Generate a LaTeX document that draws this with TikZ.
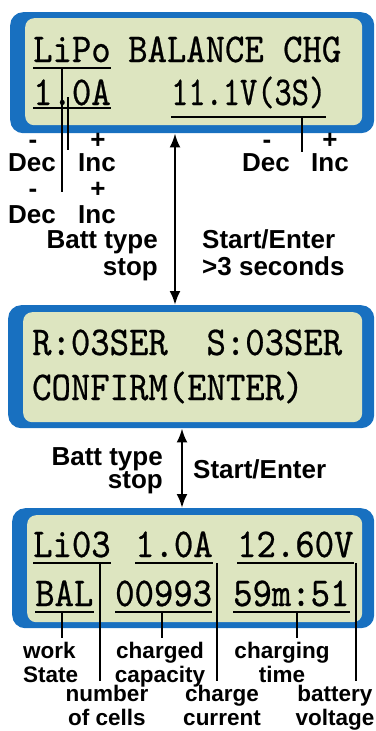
\documentclass[tikz,border=0pt]{standalone}
\usepackage{fontspec}
\setmainfont{Liberation Sans}
\newfontfamily\lcdfont[FakeStretch=0.9,FakeBold=0.6]{lmmono10-regular.otf}
\newfontfamily\lcdnarrow[FakeStretch=0.8,FakeBold=0.6]{lmmono10-regular.otf}
\usetikzlibrary{arrows.meta,positioning,calc}
\definecolor{lcdblue}{RGB}{24,112,192}
\definecolor{lcdface}{RGB}{221,229,192}
\tikzset{
  frame/.style={fill=lcdblue,rounded corners=13pt,inner sep=0pt,anchor=north west},
  screen/.style={fill=lcdface,rounded corners=9pt,inner sep=0pt,anchor=north west},
  lcd/.style={font=\fontsize{41}{41}\selectfont\lcdfont,inner sep=0pt,anchor=base west},
  lcdn/.style={lcd,font=\fontsize{41}{41}\selectfont\lcdnarrow},
  lbl/.style={font=\fontsize{26}{27}\selectfont\bfseries,inner sep=0pt},
  note/.style={font=\fontsize{22.5}{23.5}\selectfont\bfseries,inner sep=0pt,align=center,anchor=base},
  uline/.style={black,line width=1.8pt},
  lead/.style={black,line width=1.4pt},
  dbl/.style={{Latex[length=14pt,width=11pt]}-{Latex[length=14pt,width=11pt]},line width=2.4pt},
}
\newcommand{\ulfield}[2]{% node, drop below baseline
  \draw[uline] ([yshift=-#2pt]#1.base west) -- ([yshift=-#2pt]#1.base east);
}

\begin{document}
\begin{tikzpicture}[x=1pt,y=-1pt]
  \useasboundingbox (0,0) rectangle (375,731);
  % screen 1: type and setting
  \node[frame,minimum width=364,minimum height=121] (f1) at (10,12) {};
  \node[screen,minimum width=337,minimum height=107] (s1) at (25,18) {};
  \node[lcd] (lipo) at (33,62) {LiPo};
  \node[lcd] (mode) at (128,62) {BALANCE CHG};
  \node[lcd] (cur1) at (33,105) {1.0A};
  \node[lcdn] (volt1) at (171,105) {11.1V(3S)};
  \ulfield{lipo}{6}
  \ulfield{cur1}{3}
  \ulfield{volt1}{12}

  % screen 2: confirm cells
  \node[frame,minimum width=366,minimum height=123] (f2) at (8,305) {};
  \node[screen,minimum width=339,minimum height=110] (s2) at (23,312) {};
  \node[lcd] (cells) at (32,355) {R:03SER\ \ S:03SER};
  \node[lcd] (conf) at (32,400) {CONFIRM(ENTER)};

  % screen 3: charging
  \node[frame,minimum width=362,minimum height=120] (f3) at (12,508) {};
  \node[screen,minimum width=335,minimum height=107] (s3) at (27,515) {};
  \node[lcd] (li) at (33,557) {Li03};
  \node[lcd] (cur3) at (135,557) {1.0A};
  \node[lcd] (volt3) at (237,557) {12.60V};
  \node[lcd] (bal) at (35,606) {BAL};
  \node[lcd] (cap) at (115,606) {00993};
  \node[lcd] (time) at (233,606) {59m:51};
  \foreach \n in {li,cur3,volt3} {\ulfield{\n}{6}}
  \foreach \n in {bal,cap,time} {\ulfield{\n}{6}}

  % keys below screen 1
  \node[lbl,anchor=base] (dn1) at (33,148) {-};
  \node[lbl,anchor=base] (up1) at (98,148) {+};
  \node[lbl,anchor=base] (dec1) at (32,171) {Dec};
  \node[lbl,anchor=base] (inc1) at (97,171) {Inc};
  \node[lbl,anchor=base] (dn2) at (33,197) {-};
  \node[lbl,anchor=base] (up2) at (98,197) {+};
  \node[lbl,anchor=base] (dec2) at (32,223) {Dec};
  \node[lbl,anchor=base] (inc2) at (97,223) {Inc};
  \node[lbl,anchor=base] (dn3) at (267,148) {-};
  \node[lbl,anchor=base] (up3) at (330,148) {+};
  \node[lbl,anchor=base] (dec3) at (266,171) {Dec};
  \node[lbl,anchor=base] (inc3) at (330,171) {Inc};

  \coordinate (lipoA) at (62,68);
  \coordinate (lipoB) at (62,192);
  \coordinate (curA) at (68,97);
  \coordinate (curB) at (68,150);
  \coordinate (voltA) at (302,117);
  \coordinate (voltB) at (302,152);
  \draw[lead] (lipoA) -- (lipoB);
  \draw[lead] (curA) -- (curB);
  \draw[lead] (voltA) -- (voltB);

  % transitions
  \coordinate (ax1) at (175,0);
  \coordinate (ax2) at (182,0);
  \draw[dbl] (f1.south -| ax1) -- (f2.north -| ax1);
  \draw[dbl] (f2.south -| ax2) -- (f3.north -| ax2);
  \node[lbl,align=right,anchor=base east] (batt1) at (158,275) {Batt type\\stop};
  \node[lbl,align=left,anchor=base west] (start1) at (202,275) {Start/Enter\\>3 seconds};
  \node[lbl,font=\fontsize{26}{23}\selectfont\bfseries,align=right,anchor=base east] (batt2) at (163,488) {Batt type\\stop};
  \node[lbl,anchor=base west] (start2) at (193,478) {Start/Enter};

  % meaning of the fields
  \node[note,align=left,anchor=base west] (work) at (23,682) {work\\State};
  \node[note] (capn) at (160,682) {charged\\capacity};
  \node[note] (timen) at (282,682) {charging\\time};
  \node[note] (ncell) at (107,725) {number\\of cells};
  \node[note] (ccur) at (222,725) {charge\\current};
  \node[note] (bvolt) at (335,725) {battery\\voltage};

  \coordinate (liU) at (100,563);
  \coordinate (curU) at (217,563);
  \coordinate (voltU) at (356,563);
  \coordinate (balU) at (62,612);
  \coordinate (capU) at (162,612);
  \coordinate (timeU) at (297,612);
  \draw[lead] (liU) -- ([yshift=4pt]liU |- ncell.north);
  \draw[lead] (curU) -- ([yshift=4pt]curU |- ccur.north);
  \draw[lead] (voltU) -- ([yshift=4pt]voltU |- bvolt.north);
  \draw[lead] (balU) -- ([yshift=4pt]balU |- work.north);
  \draw[lead] (capU) -- ([yshift=4pt]capU |- capn.north);
  \draw[lead] (timeU) -- ([yshift=4pt]timeU |- timen.north);
\end{tikzpicture}
\end{document}
